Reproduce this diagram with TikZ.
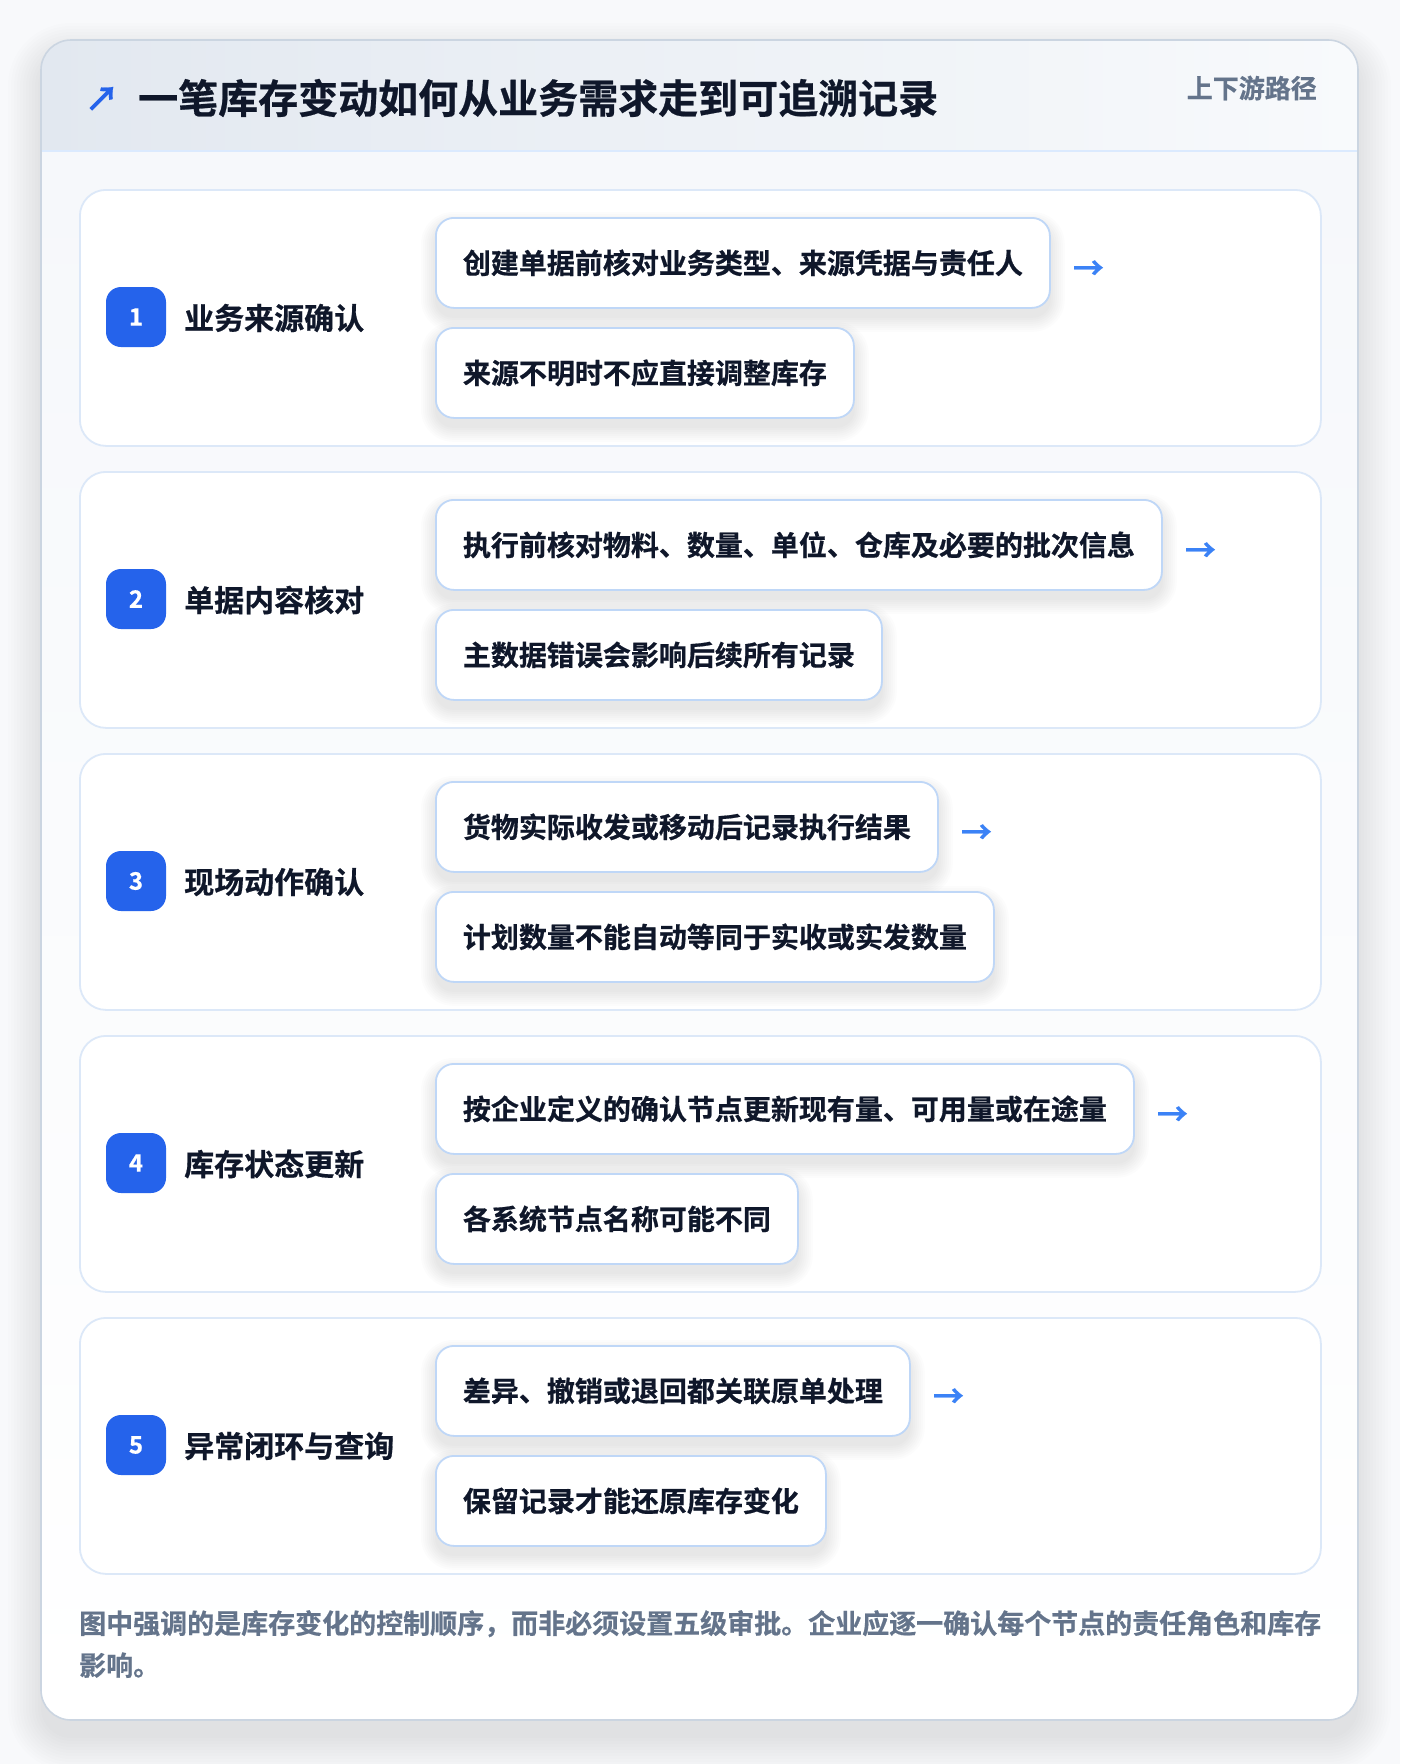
\documentclass[tikz,border=0pt]{standalone}
\usepackage{fontspec}
\setmainfont{Noto Sans CJK SC}[BoldFont={Noto Sans CJK SC Bold}, BoldFeatures={FakeBold=0.6}]
\pgfdeclarelayer{back}
\pgfdeclarelayer{shadow}
\pgfsetlayers{back,shadow,main}
\definecolor{pagebg}{HTML}{F8F9FB}
\definecolor{cardbg}{HTML}{F6F8FB}
\definecolor{cardline}{HTML}{CBD5E1}
\definecolor{hdrL}{HTML}{E2E8F0}
\definecolor{hdrR}{HTML}{F8FAFC}
\definecolor{hdrline}{HTML}{DBEAFE}
\definecolor{secline}{HTML}{DCE8F8}
\definecolor{detline}{HTML}{BFD7F7}
\definecolor{ink}{HTML}{0F172A}
\definecolor{muted}{HTML}{64748B}
\definecolor{blue}{HTML}{2563EB}
\definecolor{arrowblue}{HTML}{3B82F6}
\tikzset{
  section/.style={draw=secline, line width=1.8pt, fill=white, rounded corners=26pt,
    minimum width=1241pt, minimum height=256pt, anchor=north west, inner sep=0pt},
  badge/.style={fill=blue, rounded corners=15pt, minimum width=60pt, minimum height=60pt,
    inner sep=0pt, text=white, font=\fontsize{24}{28}\selectfont\bfseries},
  lab/.style={anchor=west, inner sep=0pt, text=ink, font=\fontsize{30}{36}\selectfont\bfseries},
  detail/.style={draw=detline, line width=1.8pt, fill=white, rounded corners=18pt,
    minimum height=90pt, inner xsep=27pt, inner ysep=0pt, anchor=north west, text=ink,
    font=\fontsize{28}{34}\selectfont\bfseries},
  flowarrow/.style={anchor=west, inner sep=0pt, text=arrowblue, font=\fontsize{31}{34}\selectfont\bfseries},
  softshadow/.style={fill=black, opacity=0.011},
  cardshadow/.style={fill=black, opacity=0.0075},
}
\begin{document}
\begin{tikzpicture}[x=1pt,y=-1pt]
\useasboundingbox (0,0) rectangle (1400,1764);
\begin{pgfonlayer}{back}
\fill[pagebg] (0,0) rectangle (1400,1764);
% card shadow
\foreach \k in {0,3,...,33}
  \fill[cardshadow, rounded corners=30+\k] (41-\k,56-\k) rectangle (1358+\k,1738+\k);
% card
\begin{scope}
  \clip[rounded corners=30pt] (41,40) rectangle (1358,1720);
  \shade[top color=cardbg, bottom color=white] (41,151) rectangle (1358,1720);
  \shade[left color=hdrL, right color=hdrR] (41,40) rectangle (1358,151);
  \draw[hdrline, line width=2pt] (41,151) -- (1358,151);
\end{scope}
\draw[cardline, line width=1.6pt, rounded corners=30pt] (41,40) rectangle (1358,1720);
\end{pgfonlayer}
% header
\node[inner sep=0pt, text=blue, font=\fontsize{34}{38}\selectfont\bfseries] (icon) at (102,99) {↗};
\node[anchor=west, inner sep=0pt, text=ink, font=\fontsize{40}{48}\selectfont\bfseries] (title) at (138,98)
  {一笔库存变动如何从业务需求走到可追溯记录};
\node[anchor=east, inner sep=0pt, text=muted, font=\fontsize{26}{30}\selectfont\bfseries] (tag) at (1317,88)
  {上下游路径};
% sections
\foreach \i/\lab/\ta/\tb in {
  1/业务来源确认/创建单据前核对业务类型、来源凭据与责任人/来源不明时不应直接调整库存,
  2/单据内容核对/执行前核对物料、数量、单位、仓库及必要的批次信息/主数据错误会影响后续所有记录,
  3/现场动作确认/货物实际收发或移动后记录执行结果/计划数量不能自动等同于实收或实发数量,
  4/库存状态更新/按企业定义的确认节点更新现有量、可用量或在途量/各系统节点名称可能不同,
  5/异常闭环与查询/差异、撤销或退回都关联原单处理/保留记录才能还原库存变化}
{
  \pgfmathsetmacro\T{189+(\i-1)*282}
  \begin{pgfonlayer}{back}
    \node[section] (sec\i) at (79,\T) {};
  \end{pgfonlayer}
  \node[badge] (badge\i) at (136,\T+128) {\i};
  \node[lab] (lab\i) at (184,\T+129) {\lab};
  \node[detail] (da\i) at (435,\T+28) {\ta};
  \node[detail] (db\i) at (435,\T+138) {\tb};
  \node[flowarrow] (arr\i) at ([xshift=22pt,yshift=-7pt]da\i.east) {→};
  \begin{pgfonlayer}{shadow}
    \foreach \k in {0,2,...,14} {
      \fill[softshadow, rounded corners=18+\k]
        ([xshift=-\k pt, yshift=\k pt-9pt]da\i.north west) rectangle ([xshift=\k pt, yshift=-\k pt-9pt]da\i.south east);
      \fill[softshadow, rounded corners=18+\k]
        ([xshift=-\k pt, yshift=\k pt-9pt]db\i.north west) rectangle ([xshift=\k pt, yshift=-\k pt-9pt]db\i.south east);
    }
  \end{pgfonlayer}
}
% footer
\node[anchor=north west, align=left, inner sep=0pt, text=muted,
  font=\fontsize{27}{42}\selectfont\bfseries] (foot) at (79,1610)
  {图中强调的是库存变化的控制顺序，而非必须设置五级审批。企业应逐一确认每个节点的责任角色和库存\\影响。};
\end{tikzpicture}
\end{document}
